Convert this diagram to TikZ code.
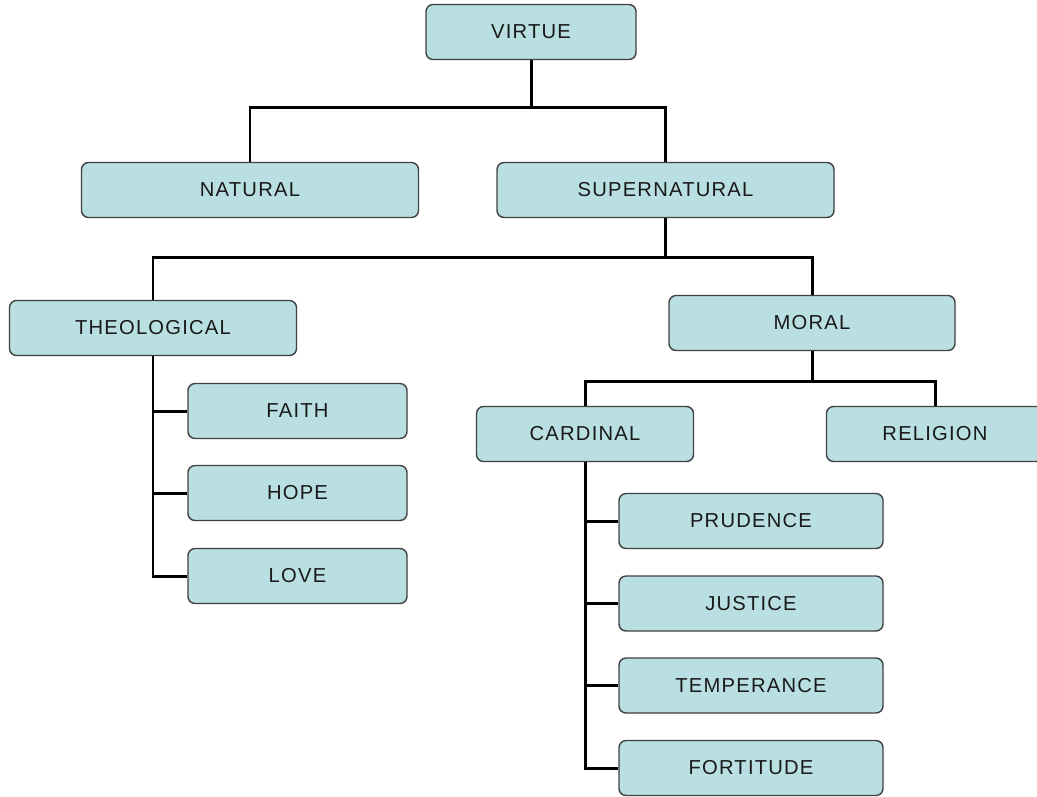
\documentclass[tikz,border=0pt]{standalone}
\usepackage{fontspec}
\setmainfont{Liberation Sans}[LetterSpace=6]
\definecolor{boxfill}{RGB}{185,223,226}
\definecolor{boxline}{RGB}{64,64,64}
\tikzset{
  box/.style={draw=boxline, line width=0.8pt, fill=boxfill, rounded corners=4pt,
    minimum height=55*0.02cm, inner sep=0pt, text=black!90,
    font=\fontsize{11.5}{13}\selectfont},
  link/.style={line width=1.7pt, black}
}
\begin{document}
\begin{tikzpicture}[x=0.02cm, y=-0.02cm]
      \useasboundingbox (0,0) rectangle (1037,796);
      \begin{scope}[link]
        \coordinate (j0) at (531,107);
        \coordinate (j1) at (665.5,257);
        \coordinate (j2) at (812,381);
        \draw (531,32) -- (j0);
        \draw (j0) -| (250,190);
        \draw (j0) -| (665.5,190);
        \draw (665.5,190) -- (j1);
        \draw (j1) -| (153,328);
        \draw (j1) -| (812,323);
        \draw (812,323) -- (j2);
        \draw (j2) -| (585,434);
        \draw (j2) -| (935,434);
      \end{scope}
      \draw
        (531,32) node[box, minimum width=210*0.02cm] (virtue){VIRTUE}
        (250,190) node[box, minimum width=337*0.02cm] (natural){NATURAL}
        (665.5,190) node[box, minimum width=337*0.02cm] (supernatural){SUPERNATURAL}
        (153,328) node[box, minimum width=287*0.02cm] (theological){THEOLOGICAL}
        (812,323) node[box, minimum width=286*0.02cm] (moral){MORAL}
        (297.5,411) node[box, minimum width=219*0.02cm] (faith){FAITH}
        (297.5,493) node[box, minimum width=219*0.02cm] (hope){HOPE}
        (297.5,576) node[box, minimum width=219*0.02cm] (love){LOVE}
        (585,434) node[box, minimum width=217*0.02cm] (cardinal){CARDINAL}
        (935,434) node[box, minimum width=217*0.02cm] (religion){RELIGION}
        (751,521) node[box, minimum width=264*0.02cm] (prudence){PRUDENCE}
        (751,603.5) node[box, minimum width=264*0.02cm] (justice){JUSTICE}
        (751,685.5) node[box, minimum width=264*0.02cm] (temperance){TEMPERANCE}
        (751,768) node[box, minimum width=264*0.02cm] (fortitude){FORTITUDE};
      \begin{scope}[link]
        \draw (theological.south) |- (faith.west);
        \draw (theological.south) |- (hope.west);
        \draw (theological.south) |- (love.west);
        \draw (cardinal.south) |- (prudence.west);
        \draw (cardinal.south) |- (justice.west);
        \draw (cardinal.south) |- (temperance.west);
        \draw (cardinal.south) |- (fortitude.west);
      \end{scope}
    \end{tikzpicture}
\end{document}
